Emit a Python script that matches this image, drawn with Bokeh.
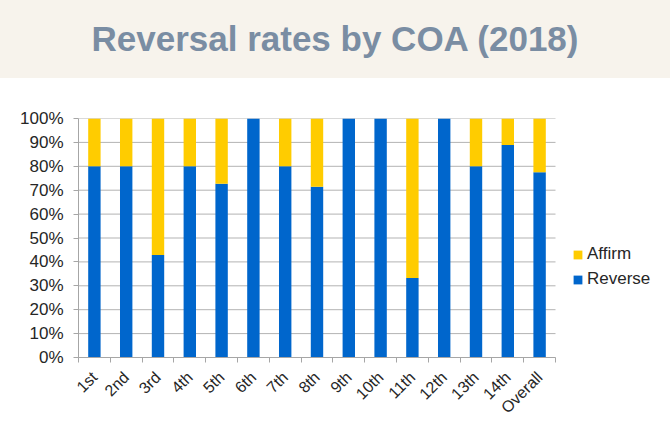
from bokeh.plotting import figure
from bokeh.models import (ColumnDataSource, FixedTicker, NumeralTickFormatter,
                          Legend, LegendItem, Div, Range1d)
from bokeh.layouts import column
from bokeh.embed import file_html
from bokeh.resources import INLINE
import math

categories = ["1st", "2nd", "3rd", "4th", "5th", "6th", "7th", "8th", "9th",
              "10th", "11th", "12th", "13th", "14th", "Overall"]
reverse = [0.80, 0.80, 0.429, 0.80, 0.727, 1.0, 0.80, 0.714, 1.0,
           1.0, 0.333, 1.0, 0.80, 0.889, 0.775]
affirm = [1 - r for r in reverse]
y_ticks = [i / 10 for i in range(11)]

n = len(categories)
xs = [i + 0.5 for i in range(n)]
src = ColumnDataSource(dict(x=xs, reverse=reverse, affirm=affirm,
                            top=[r + a for r, a in zip(reverse, affirm)]))
grid_src = ColumnDataSource(dict(x0=[0] * len(y_ticks), x1=[n] * len(y_ticks),
                                 y=y_ticks))

FONT = "Liberation Sans"
W, LEFT, RIGHT = 670, 78, 5
CAT_AREA = 477  # pixel width of the category area
x_end = n * (W - LEFT - RIGHT) / CAT_AREA

title = Div(
    text='<div style="width:670px;height:78px;line-height:78px;text-align:center;'
         'font-family:\'Liberation Sans\',Arial,sans-serif;font-weight:bold;'
         'font-size:35px;color:#7A8DA3;background:#F7F3EC;">'
         'Reversal rates by COA (2018)</div>',
    width=W, height=78, margin=(0, 0, 0, 0),
    styles={"background-color": "#F7F3EC"})

p = figure(width=W, height=355, output_backend="svg", toolbar_location=None,
           x_range=Range1d(0, x_end), y_range=Range1d(0, 1),
           min_border_left=LEFT, min_border_right=RIGHT, min_border_top=40,
           min_border_bottom=76, outline_line_color=None,
           background_fill_color="white", border_fill_color="white",
           margin=(0, 0, 0, 0))

p.xgrid.grid_line_color = None
p.ygrid.grid_line_color = None
p.segment(x0="x0", x1="x1", y0="y", y1="y", source=grid_src,
          line_color="#B3B3B3", line_width=1)

bw = 0.39
r_rev = p.vbar(x="x", bottom=0, top="reverse", width=bw, source=src,
               fill_color="#0066CC", line_color=None)
r_aff = p.vbar(x="x", bottom="reverse", top="top", width=bw, source=src,
               fill_color="#FFCC00", line_color=None)

# x axis
p.xaxis.bounds = (0, n)
p.xaxis.ticker = FixedTicker(ticks=xs, minor_ticks=list(range(n + 1)))
p.xaxis.major_label_overrides = {x: c for x, c in zip(xs, categories)}
p.xaxis.major_label_orientation = math.pi / 4
p.xaxis.major_tick_line_color = None
p.xaxis.major_tick_out = 0
p.xaxis.minor_tick_out = 5
p.xaxis.minor_tick_in = 0
p.xaxis.minor_tick_line_color = "#A6A6A6"
p.xaxis.axis_line_color = "#A6A6A6"
p.xaxis.major_label_text_font = FONT
p.xaxis.major_label_text_font_size = "16px"
p.xaxis.major_label_text_color = "#262626"
p.xaxis.major_label_standoff = 12

# y axis
p.yaxis.ticker = FixedTicker(ticks=y_ticks)
p.yaxis.formatter = NumeralTickFormatter(format="0%")
p.yaxis.minor_tick_line_color = None
p.yaxis.major_tick_out = 5
p.yaxis.major_tick_in = 0
p.yaxis.major_tick_line_color = "#A6A6A6"
p.yaxis.axis_line_color = "#A6A6A6"
p.yaxis.major_label_text_font = FONT
p.yaxis.major_label_text_font_size = "17px"
p.yaxis.major_label_text_color = "#262626"
p.yaxis.major_label_standoff = 10

legend = Legend(items=[LegendItem(label="Affirm", renderers=[r_aff]),
                       LegendItem(label="Reverse", renderers=[r_rev])],
                location=(494, 68), orientation="vertical",
                glyph_width=11, glyph_height=11, label_height=11,
                spacing=5, padding=0, margin=0, label_standoff=4,
                border_line_color=None, background_fill_alpha=0,
                label_text_font=FONT, label_text_font_size="17px",
                label_text_color="#262626")
p.add_layout(legend, "center")

layout = column(title, p, spacing=0)
open("out.html", "w").write(file_html(layout, INLINE))
